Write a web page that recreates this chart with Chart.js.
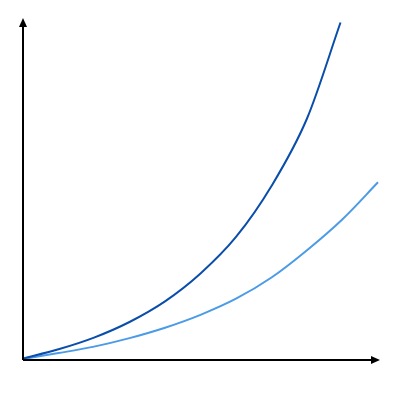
<!DOCTYPE html>
<html>
<head>
<meta charset="utf-8">
<script src="https://cdn.jsdelivr.net/npm/chart.js@4.4.1/dist/chart.umd.min.js"></script>
<style>
    html, body { margin: 0; padding: 0; background: #fff; }
    #wrap { width: 400px; height: 400px; }
</style>
</head>
<body>
<div id="wrap"><canvas id="chart"></canvas></div>
<script>
// values (x and y both on a 0..10 scale)
const darkX = [0, 1, 2, 3, 4, 5, 6, 7, 8, 8.944];
const darkY = [0.044, 0.315, 0.659, 1.118, 1.724, 2.544, 3.618, 5.118, 7.103, 9.926];
const lightX = [0, 1, 2, 3, 4, 5, 6, 7, 8, 9, 10];
const lightY = [0.029, 0.203, 0.394, 0.644, 0.95, 1.329, 1.803, 2.426, 3.229, 4.141, 5.226];

const toPoints = (xs, ys) => xs.map((x, i) => ({ x: x, y: ys[i] }));

// black axes with arrow heads along the left and bottom edge of the plot area
const arrowAxes = {
    id: 'arrowAxes',
    afterDatasetsDraw(chart) {
        const ctx = chart.ctx;
        const { left, right, top, bottom } = chart.chartArea;
        ctx.save();
        ctx.strokeStyle = '#000';
        ctx.fillStyle = '#000';
        ctx.lineWidth = 2;
        ctx.beginPath();
        ctx.moveTo(left, bottom);
        ctx.lineTo(left, top + 4);
        ctx.moveTo(left, bottom);
        ctx.lineTo(right - 4, bottom);
        ctx.stroke();
        // arrow heads
        ctx.beginPath();
        ctx.moveTo(left, top - 2);
        ctx.lineTo(left - 4, top + 7);
        ctx.lineTo(left + 4, top + 7);
        ctx.closePath();
        ctx.fill();
        ctx.beginPath();
        ctx.moveTo(right + 2, bottom);
        ctx.lineTo(right - 7, bottom - 4);
        ctx.lineTo(right - 7, bottom + 4);
        ctx.closePath();
        ctx.fill();
        ctx.restore();
    }
};

new Chart(document.getElementById('chart').getContext('2d'), {
    type: 'line',
    data: {
        datasets: [{
            data: toPoints(darkX, darkY),
            borderColor: '#0a4dab',
            borderWidth: 2,
            pointRadius: 0,
            cubicInterpolationMode: 'monotone',
            clip: false
        }, {
            data: toPoints(lightX, lightY),
            borderColor: '#4b9be7',
            borderWidth: 2,
            pointRadius: 0,
            cubicInterpolationMode: 'monotone',
            clip: false
        }]
    },
    options: {
        responsive: true,
        maintainAspectRatio: false,
        animation: false,
        layout: { padding: { left: 23, right: 22, top: 20, bottom: 40 } },
        plugins: { legend: { display: false }, tooltip: { enabled: false } },
        scales: {
            x: { type: 'linear', min: 0, max: 10, display: false },
            y: { type: 'linear', min: 0, max: 10, display: false }
        }
    },
    plugins: [arrowAxes]
});
</script>
</body>
</html>
